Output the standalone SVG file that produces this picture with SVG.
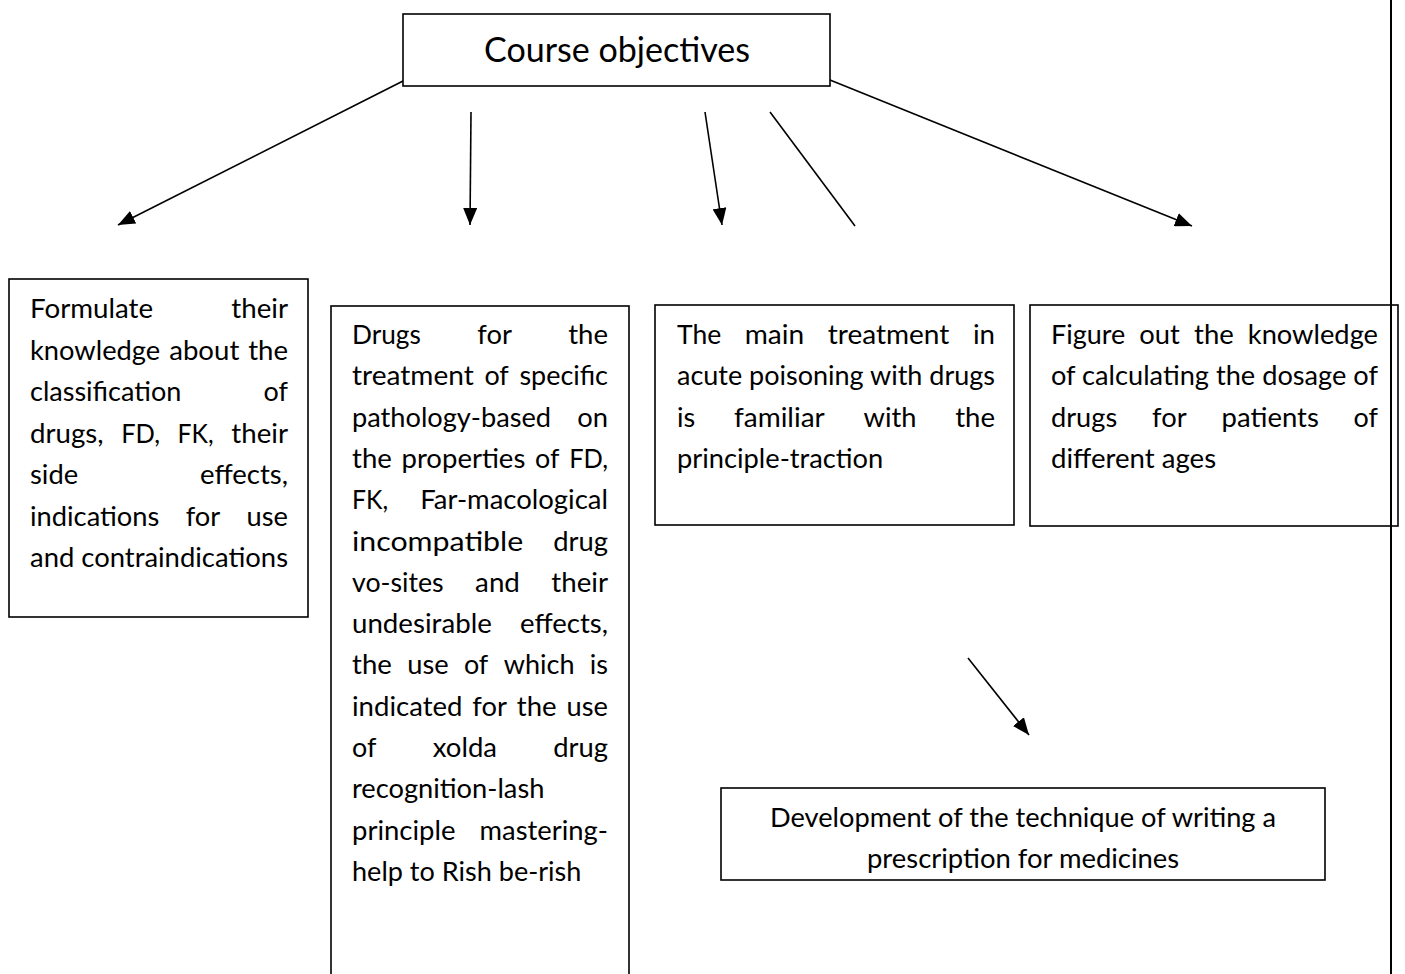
<svg xmlns="http://www.w3.org/2000/svg" width="1405" height="974" viewBox="0 0 1405 974">
<style>
.box{fill:#fff;stroke:#000;stroke-width:1.6}
.t{font-family:Lato,"Liberation Sans",sans-serif;font-size:27.5px;fill:#000}
.c{stroke:#000;stroke-width:1.6;fill:none}
</style>
<defs>
<marker id="ah" markerUnits="userSpaceOnUse" markerWidth="18" markerHeight="14" refX="17" refY="7" orient="auto">
<path d="M0,0 L17,7 L0,14 z" fill="#000"/>
</marker>
<clipPath id="clipB"><rect x="721" y="788" width="604" height="87"/></clipPath>
</defs>
<rect width="1405" height="974" fill="#fff"/>

<g id="connectors">
<line class="c" x1="403" y1="81" x2="118" y2="225" marker-end="url(#ah)"/>
<line class="c" x1="471" y1="112" x2="470" y2="225" marker-end="url(#ah)"/>
<line class="c" x1="705" y1="112" x2="722" y2="225" marker-end="url(#ah)"/>
<line class="c" x1="770" y1="112" x2="855" y2="226"/>
<line class="c" x1="830" y1="80" x2="1192" y2="226" marker-end="url(#ah)"/>
<line class="c" x1="968" y1="658" x2="1029" y2="735" marker-end="url(#ah)"/>
</g>

<g id="course-objectives">
<rect class="box" x="403" y="14" width="427" height="72"/>
<text class="t" x="484" y="62" style="font-size:35px" textLength="266" lengthAdjust="spacingAndGlyphs">Course objectives</text>
</g>

<g id="formulate">
<rect class="box" x="9" y="279" width="299" height="338"/>
<text class="t" x="30" y="318" textLength="123.1" lengthAdjust="spacingAndGlyphs">Formulate</text>
<text class="t" x="231.3" y="318" textLength="56.7" lengthAdjust="spacingAndGlyphs">their</text>
<text class="t" x="30" y="359.5" textLength="130.2" lengthAdjust="spacingAndGlyphs">knowledge</text>
<text class="t" x="169.2" y="359.5" textLength="70.1" lengthAdjust="spacingAndGlyphs">about</text>
<text class="t" x="248.2" y="359.5" textLength="39.8" lengthAdjust="spacingAndGlyphs">the</text>
<text class="t" x="30" y="401" textLength="151.3" lengthAdjust="spacingAndGlyphs">classification</text>
<text class="t" x="263.6" y="401" textLength="24.4" lengthAdjust="spacingAndGlyphs">of</text>
<text class="t" x="30" y="442.5" textLength="73.6" lengthAdjust="spacingAndGlyphs">drugs,</text>
<text class="t" x="121.2" y="442.5" textLength="38.8" lengthAdjust="spacingAndGlyphs">FD,</text>
<text class="t" x="177.6" y="442.5" textLength="36" lengthAdjust="spacingAndGlyphs">FK,</text>
<text class="t" x="231.3" y="442.5" textLength="56.7" lengthAdjust="spacingAndGlyphs">their</text>
<text class="t" x="30" y="484" textLength="48.1" lengthAdjust="spacingAndGlyphs">side</text>
<text class="t" x="200" y="484" textLength="88" lengthAdjust="spacingAndGlyphs">effects,</text>
<text class="t" x="30" y="525.5" textLength="129.4" lengthAdjust="spacingAndGlyphs">indications</text>
<text class="t" x="185.7" y="525.5" textLength="34.6" lengthAdjust="spacingAndGlyphs">for</text>
<text class="t" x="246.6" y="525.5" textLength="41.4" lengthAdjust="spacingAndGlyphs">use</text>
<text class="t" x="30" y="567" textLength="258" lengthAdjust="spacingAndGlyphs">and contraindications</text>
</g>

<g id="drugs">
<rect class="box" x="331" y="306" width="298" height="690"/>
<text class="t" x="352" y="344" textLength="68.9" lengthAdjust="spacingAndGlyphs">Drugs</text>
<text class="t" x="477.3" y="344" textLength="34.6" lengthAdjust="spacingAndGlyphs">for</text>
<text class="t" x="568.2" y="344" textLength="39.8" lengthAdjust="spacingAndGlyphs">the</text>
<text class="t" x="352" y="385.3" textLength="121.7" lengthAdjust="spacingAndGlyphs">treatment</text>
<text class="t" x="484.4" y="385.3" textLength="24.4" lengthAdjust="spacingAndGlyphs">of</text>
<text class="t" x="519.4" y="385.3" textLength="88.6" lengthAdjust="spacingAndGlyphs">specific</text>
<text class="t" x="352" y="426.6" textLength="199.1" lengthAdjust="spacingAndGlyphs">pathology-based</text>
<text class="t" x="577.2" y="426.6" textLength="30.8" lengthAdjust="spacingAndGlyphs">on</text>
<text class="t" x="352" y="467.9" textLength="39.8" lengthAdjust="spacingAndGlyphs">the</text>
<text class="t" x="401.5" y="467.9" textLength="123.8" lengthAdjust="spacingAndGlyphs">properties</text>
<text class="t" x="535" y="467.9" textLength="24.4" lengthAdjust="spacingAndGlyphs">of</text>
<text class="t" x="569.2" y="467.9" textLength="38.8" lengthAdjust="spacingAndGlyphs">FD,</text>
<text class="t" x="352" y="509.2" textLength="36" lengthAdjust="spacingAndGlyphs">FK,</text>
<text class="t" x="420.2" y="509.2" textLength="187.8" lengthAdjust="spacingAndGlyphs">Far-macological</text>
<text class="t" x="352" y="550.5" textLength="171.2" lengthAdjust="spacingAndGlyphs">incompatible</text>
<text class="t" x="553.2" y="550.5" textLength="54.8" lengthAdjust="spacingAndGlyphs">drug</text>
<text class="t" x="352" y="591.8" textLength="91.7" lengthAdjust="spacingAndGlyphs">vo-sites</text>
<text class="t" x="475.1" y="591.8" textLength="44.8" lengthAdjust="spacingAndGlyphs">and</text>
<text class="t" x="551.3" y="591.8" textLength="56.7" lengthAdjust="spacingAndGlyphs">their</text>
<text class="t" x="352" y="633.1" textLength="139.8" lengthAdjust="spacingAndGlyphs">undesirable</text>
<text class="t" x="520" y="633.1" textLength="88" lengthAdjust="spacingAndGlyphs">effects,</text>
<text class="t" x="352" y="674.4" textLength="39.8" lengthAdjust="spacingAndGlyphs">the</text>
<text class="t" x="407.2" y="674.4" textLength="41.4" lengthAdjust="spacingAndGlyphs">use</text>
<text class="t" x="463.9" y="674.4" textLength="24.4" lengthAdjust="spacingAndGlyphs">of</text>
<text class="t" x="503.7" y="674.4" textLength="70.8" lengthAdjust="spacingAndGlyphs">which</text>
<text class="t" x="589.8" y="674.4" textLength="18.2" lengthAdjust="spacingAndGlyphs">is</text>
<text class="t" x="352" y="715.7" textLength="110.4" lengthAdjust="spacingAndGlyphs">indicated</text>
<text class="t" x="472.3" y="715.7" textLength="34.6" lengthAdjust="spacingAndGlyphs">for</text>
<text class="t" x="516.8" y="715.7" textLength="39.8" lengthAdjust="spacingAndGlyphs">the</text>
<text class="t" x="566.6" y="715.7" textLength="41.4" lengthAdjust="spacingAndGlyphs">use</text>
<text class="t" x="352" y="757" textLength="24.4" lengthAdjust="spacingAndGlyphs">of</text>
<text class="t" x="432.7" y="757" textLength="64.3" lengthAdjust="spacingAndGlyphs">xolda</text>
<text class="t" x="553.2" y="757" textLength="54.8" lengthAdjust="spacingAndGlyphs">drug</text>
<text class="t" x="352" y="798.3" textLength="192.4" lengthAdjust="spacingAndGlyphs">recognition-lash</text>
<text class="t" x="352" y="839.6" textLength="103.5" lengthAdjust="spacingAndGlyphs">principle</text>
<text class="t" x="479.6" y="839.6" textLength="128.4" lengthAdjust="spacingAndGlyphs">mastering-</text>
<text class="t" x="352" y="880.9" textLength="229.4" lengthAdjust="spacingAndGlyphs">help to Rish be-rish</text>
</g>

<g id="main-treatment">
<rect class="box" x="655" y="305" width="359" height="220"/>
<text class="t" x="677" y="344" textLength="44.2" lengthAdjust="spacingAndGlyphs">The</text>
<text class="t" x="744.7" y="344" textLength="59.5" lengthAdjust="spacingAndGlyphs">main</text>
<text class="t" x="827.7" y="344" textLength="121.7" lengthAdjust="spacingAndGlyphs">treatment</text>
<text class="t" x="972.9" y="344" textLength="22.1" lengthAdjust="spacingAndGlyphs">in</text>
<text class="t" x="677" y="385.3" textLength="318" lengthAdjust="spacingAndGlyphs">acute poisoning with drugs</text>
<text class="t" x="677" y="426.6" textLength="18.2" lengthAdjust="spacingAndGlyphs">is</text>
<text class="t" x="734" y="426.6" textLength="90.8" lengthAdjust="spacingAndGlyphs">familiar</text>
<text class="t" x="863.6" y="426.6" textLength="52.9" lengthAdjust="spacingAndGlyphs">with</text>
<text class="t" x="955.2" y="426.6" textLength="39.8" lengthAdjust="spacingAndGlyphs">the</text>
<text class="t" x="677" y="467.9" textLength="206.3" lengthAdjust="spacingAndGlyphs">principle-traction</text>
</g>

<g id="figure-out">
<rect class="box" x="1030" y="305" width="368" height="221"/>
<text class="t" x="1051" y="344" textLength="74.2" lengthAdjust="spacingAndGlyphs">Figure</text>
<text class="t" x="1139.3" y="344" textLength="40.6" lengthAdjust="spacingAndGlyphs">out</text>
<text class="t" x="1194" y="344" textLength="39.8" lengthAdjust="spacingAndGlyphs">the</text>
<text class="t" x="1247.8" y="344" textLength="130.2" lengthAdjust="spacingAndGlyphs">knowledge</text>
<text class="t" x="1051" y="385.3" textLength="327" lengthAdjust="spacingAndGlyphs">of calculating the dosage of</text>
<text class="t" x="1051" y="426.6" textLength="66.2" lengthAdjust="spacingAndGlyphs">drugs</text>
<text class="t" x="1152.1" y="426.6" textLength="34.6" lengthAdjust="spacingAndGlyphs">for</text>
<text class="t" x="1221.6" y="426.6" textLength="97.2" lengthAdjust="spacingAndGlyphs">patients</text>
<text class="t" x="1353.6" y="426.6" textLength="24.4" lengthAdjust="spacingAndGlyphs">of</text>
<text class="t" x="1051" y="467.9" textLength="165.1" lengthAdjust="spacingAndGlyphs">different ages</text>
</g>

<g id="prescription">
<rect class="box" x="721" y="788" width="604" height="92"/>
<g clip-path="url(#clipB)">
<text class="t" x="770" y="827" textLength="506" lengthAdjust="spacingAndGlyphs">Development of the technique of writing a</text>
<text class="t" x="867" y="868" textLength="312.2" lengthAdjust="spacingAndGlyphs">prescription for medicines</text>
</g>
</g>

<line x1="1391" y1="0" x2="1391" y2="974" stroke="#000" stroke-width="2"/>
</svg>
